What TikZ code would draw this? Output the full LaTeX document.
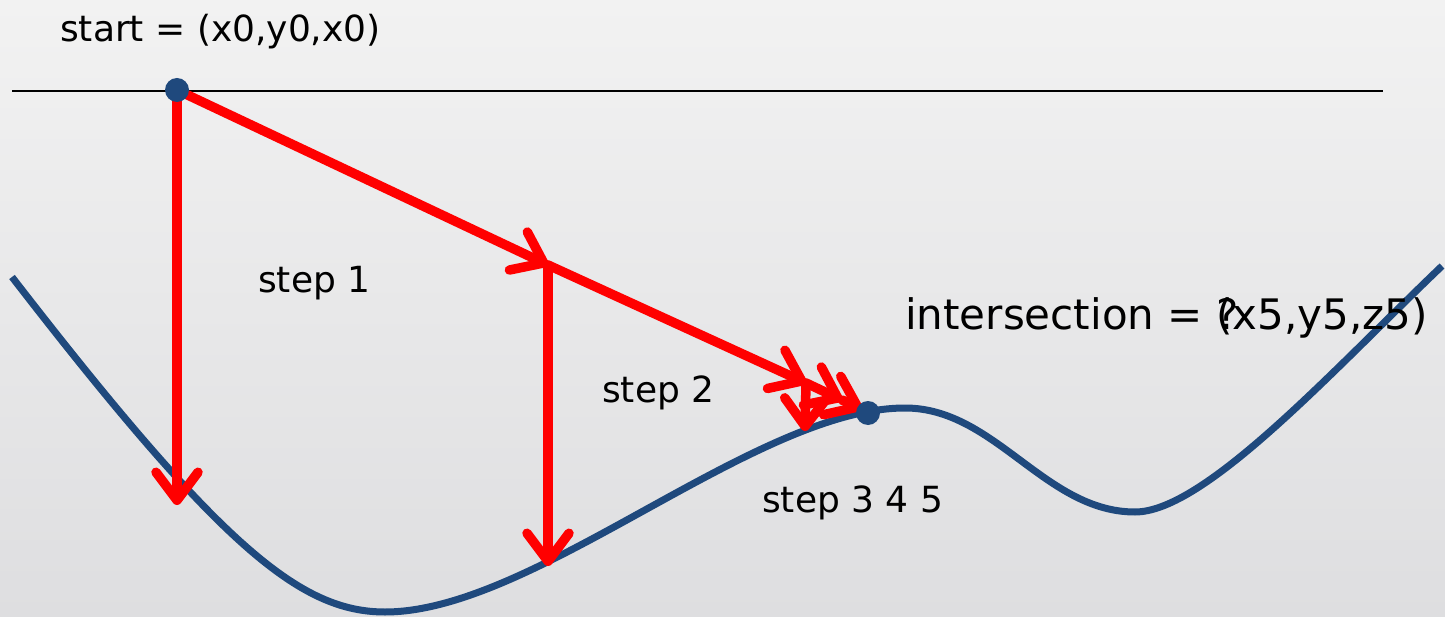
\documentclass[tikz,border=0pt]{standalone}
\usepackage{fontspec}
\setmainfont{DejaVu Sans}
\usetikzlibrary{arrows.meta}
\definecolor{navy}{RGB}{31,73,125}
\definecolor{bgtop}{RGB}{242,242,242}
\definecolor{bgbot}{RGB}{222,222,224}
\tikzset{
  redarrow/.style={draw=red, line width=9.5pt, line cap=round,
    -{Straight Barb[length=28pt,width=42pt,round]}},
  curveline/.style={draw=navy, line width=7pt},
  dot/.style={circle, fill=navy, inner sep=0pt, minimum size=24pt},
  lbl/.style={anchor=base west, inner sep=0pt, text=black, font=\fontsize{36}{40}\selectfont},
  biglbl/.style={anchor=base west, inner sep=0pt, text=black, font=\fontsize{42}{46}\selectfont}
}
\begin{document}
\begin{tikzpicture}[x=1pt,y=-1pt]
\useasboundingbox (0,0) rectangle (1445,617);
\shade[top color=bgtop, bottom color=bgbot] (0,0) rectangle (1445,617);

% horizontal line
\coordinate (L1) at (12,91);
\coordinate (L2) at (1383,91);
\draw[line width=2pt, black] (L1) -- (L2);

% curve
\coordinate (K0) at (12,277);
\coordinate (K1) at (385,612);
\coordinate (K2) at (905,408);
\coordinate (K3) at (1135,512);
\coordinate (K4) at (1442,266);
\draw[curveline] (K0) .. controls (220,546) and (300,612) .. (K1)
  .. controls (535,612) and (755,408) .. (K2)
  .. controls (995,408) and (1045,512) .. (K3)
  .. controls (1205,512) and (1334,369) .. (K4);

% key points
\coordinate (S) at (177,90);
\coordinate (E) at (868,413);
\coordinate (P2) at (548,265);
\coordinate (P3) at (806,383);
\coordinate (P4) at (842,400);
\coordinate (C1) at (177,505);
\coordinate (C2) at (548,566);
\coordinate (C3) at (805,431);
\coordinate (T5) at (862,409);

% red arrows
\draw[redarrow] (S) -- (C1);
\draw[redarrow] (S) -- (P2);
\draw[redarrow] (P2) -- (C2);
\draw[redarrow] (P2) -- (P3);
\draw[redarrow] (P3) -- (C3);
\draw[redarrow] (P3) -- (P4);
\draw[redarrow] (P4) -- (T5);

% dots
\node[dot] (Sdot) at (S) {};
\node[dot] (Edot) at (E) {};

% labels
\node[lbl] (start) at (60,42) {start = (x0,y0,x0)};
\node[lbl] (s1) at (258,293) {step 1};
\node[lbl] (s2) at (602,402) {step 2};
\node[lbl] (s3) at (762,512) {step 3 4 5};
\node[biglbl] (inter) at (905,330) {intersection = \makebox[0pt][l]{?}(x5,y5,z5)};
\end{tikzpicture}
\end{document}
